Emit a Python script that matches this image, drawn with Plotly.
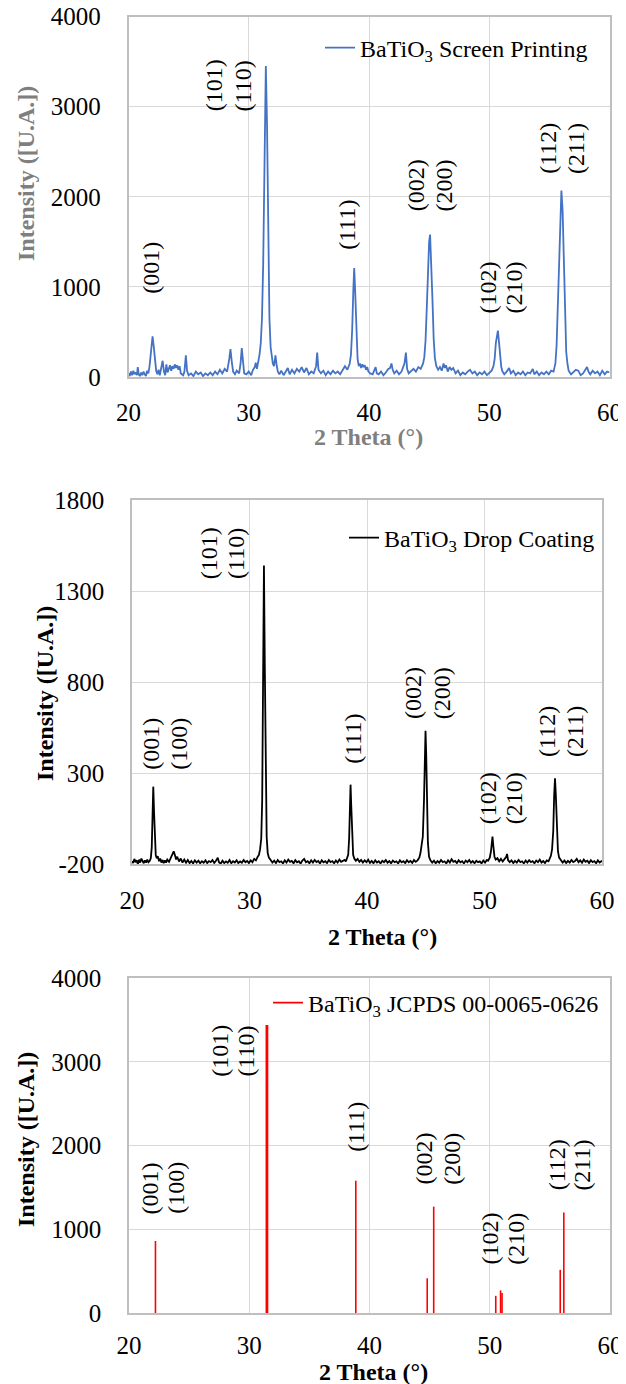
import plotly.graph_objects as go

W, H = 626, 1384
OFF = 8  # the page body adds an 8 px margin; layout is placed in page pixels minus this
FONT = "Liberation Serif, Times New Roman, serif"

# ---------------- data ----------------
# Screen printing pattern: (2theta, intensity)
sp_points = [
    (20.0, 40), (20.1, 10), (20.2, 60), (20.3, 20), (20.4, 70), (20.5, 30), (20.6, 50), (20.7, 20),
    (20.77, 110), (20.85, 30), (20.95, 10), (21.05, 50), (21.15, 20), (21.25, 60), (21.35, 30),
    (21.45, 10), (21.55, 70), (21.65, 40), (21.75, 120), (21.85, 260), (21.95, 420), (22.0, 450),
    (22.1, 340), (22.2, 170), (22.3, 70), (22.4, 30), (22.5, 80), (22.6, 20), (22.7, 90),
    (22.84, 180), (22.95, 60), (23.05, 20), (23.15, 140), (23.25, 50), (23.35, 90), (23.45, 130),
    (23.55, 70), (23.65, 120), (23.75, 90), (23.85, 140), (23.95, 100), (24.05, 130), (24.15, 80),
    (24.25, 120), (24.35, 40), (24.45, 30), (24.55, 20), (24.65, 60), (24.77, 240), (24.87, 70),
    (25.0, 20), (25.2, 40), (25.4, 10), (25.6, 60), (25.8, 30), (26.0, 50), (26.2, 10), (26.4, 40),
    (26.6, 20), (26.8, 50), (27.0, 20), (27.2, 60), (27.4, 30), (27.6, 80), (27.8, 40), (28.0, 90),
    (28.2, 60), (28.38, 200), (28.48, 310), (28.58, 180), (28.7, 60), (28.85, 30), (29.0, 70),
    (29.2, 40), (29.32, 150), (29.42, 320), (29.52, 120), (29.62, 40), (29.8, 30), (30.0, 60),
    (30.2, 20), (30.35, 80), (30.5, 110), (30.58, 160), (30.68, 90), (30.8, 180), (30.9, 250),
    (31.0, 380), (31.1, 650), (31.2, 1250), (31.3, 2500), (31.42, 3450), (31.52, 2800),
    (31.62, 1400), (31.72, 650), (31.82, 330), (31.92, 200), (32.0, 150), (32.1, 120),
    (32.22, 240), (32.32, 130), (32.42, 60), (32.55, 30), (32.7, 70), (32.9, 20), (33.1, 60),
    (33.25, 100), (33.4, 30), (33.6, 80), (33.8, 40), (34.0, 90), (34.2, 60), (34.4, 110),
    (34.6, 50), (34.8, 100), (35.0, 30), (35.2, 60), (35.4, 40), (35.6, 120), (35.69, 270),
    (35.8, 80), (36.0, 40), (36.2, 70), (36.4, 20), (36.6, 60), (36.8, 30), (37.0, 70), (37.2, 40),
    (37.4, 60), (37.6, 30), (37.8, 80), (38.0, 120), (38.2, 80), (38.4, 150), (38.5, 250),
    (38.6, 520), (38.7, 980), (38.77, 1210), (38.85, 950), (38.95, 450), (39.05, 200),
    (39.15, 120), (39.25, 150), (39.35, 100), (39.45, 140), (39.55, 110), (39.65, 130),
    (39.75, 80), (39.85, 110), (39.95, 60), (40.1, 40), (40.3, 30), (40.45, 70), (40.55, 110),
    (40.65, 40), (40.8, 30), (41.0, 60), (41.2, 20), (41.4, 50), (41.6, 90), (41.75, 100),
    (41.87, 150), (41.97, 80), (42.1, 40), (42.3, 70), (42.5, 30), (42.7, 60), (42.95, 150),
    (43.07, 270), (43.17, 90), (43.3, 40), (43.5, 60), (43.7, 90), (43.9, 60), (44.1, 110),
    (44.3, 90), (44.5, 150), (44.6, 220), (44.7, 400), (44.8, 750), (44.9, 1250), (45.0, 1500),
    (45.08, 1580), (45.18, 1300), (45.28, 850), (45.38, 420), (45.48, 210), (45.6, 120),
    (45.75, 80), (45.9, 110), (46.05, 70), (46.2, 150), (46.3, 100), (46.4, 130), (46.55, 60),
    (46.7, 110), (46.85, 80), (47.0, 100), (47.2, 40), (47.4, 70), (47.6, 20), (47.8, 50),
    (48.0, 30), (48.2, 60), (48.4, 80), (48.6, 40), (48.8, 60), (49.0, 20), (49.2, 50), (49.4, 30),
    (49.6, 60), (49.8, 20), (50.0, 40), (50.2, 70), (50.35, 120), (50.45, 200), (50.55, 380),
    (50.65, 500), (50.72, 515), (50.8, 400), (50.9, 220), (51.0, 110), (51.1, 60), (51.25, 30),
    (51.45, 60), (51.65, 100), (51.8, 40), (52.0, 70), (52.2, 20), (52.4, 50), (52.6, 30),
    (52.8, 60), (53.0, 20), (53.2, 50), (53.4, 40), (53.62, 90), (53.75, 30), (53.95, 60),
    (54.15, 20), (54.35, 50), (54.55, 30), (54.75, 60), (54.95, 30), (55.15, 70), (55.35, 60),
    (55.5, 150), (55.6, 350), (55.7, 800), (55.8, 1400), (55.9, 1900), (56.0, 2070),
    (56.1, 1850), (56.2, 1200), (56.3, 600), (56.4, 280), (56.5, 150), (56.6, 70), (56.8, 30),
    (57.0, 60), (57.2, 80), (57.4, 70), (57.6, 20), (57.8, 40), (58.0, 90), (58.13, 110),
    (58.25, 60), (58.4, 30), (58.6, 70), (58.8, 40), (59.0, 60), (59.2, 20), (59.4, 70),
    (59.6, 30), (59.8, 60), (60.0, 50),
]

# Drop coating pattern: (2theta, intensity)
dc_points = [
    (20.0, -185), (20.1, -195), (20.2, -172), (20.3, -190), (20.4, -180), (20.5, -200),
    (20.6, -176), (20.7, -192), (20.8, -170), (20.9, -188), (21.0, -196), (21.1, -180),
    (21.2, -192), (21.3, -176), (21.4, -190), (21.5, -184), (21.6, -168), (21.68, -110),
    (21.74, 60), (21.81, 225), (21.88, 80), (21.95, -90), (22.02, -150), (22.1, -168),
    (22.2, -158), (22.3, -185), (22.4, -170), (22.5, -192), (22.6, -178), (22.7, -195),
    (22.8, -180), (22.9, -192), (23.0, -176), (23.15, -188), (23.3, -168), (23.42, -150),
    (23.55, -130), (23.65, -150), (23.75, -175), (23.85, -160), (24.0, -186), (24.15, -170),
    (24.3, -192), (24.45, -176), (24.6, -193), (24.75, -178), (24.9, -195), (25.05, -183),
    (25.2, -197), (25.35, -180), (25.5, -192), (25.65, -182), (25.8, -196), (25.95, -185),
    (26.1, -193), (26.25, -180), (26.4, -195), (26.55, -184), (26.7, -190), (26.85, -178),
    (27.0, -194), (27.15, -182), (27.3, -166), (27.4, -190), (27.55, -198), (27.7, -182),
    (27.85, -195), (28.0, -186), (28.15, -193), (28.3, -178), (28.45, -196), (28.6, -185),
    (28.75, -192), (28.9, -180), (29.05, -195), (29.2, -186), (29.35, -193), (29.5, -178),
    (29.65, -190), (29.8, -183), (29.95, -195), (30.1, -180), (30.25, -190), (30.4, -172),
    (30.55, -180), (30.7, -160), (30.8, -150), (30.9, -120), (31.0, -60), (31.08, 150),
    (31.15, 700), (31.23, 1440), (31.3, 900), (31.38, 250), (31.46, -50), (31.55, -140),
    (31.65, -165), (31.8, -178), (31.95, -192), (32.1, -182), (32.25, -195), (32.4, -178),
    (32.55, -190), (32.7, -185), (32.85, -197), (33.0, -180), (33.15, -192), (33.3, -176),
    (33.45, -188), (33.6, -183), (33.75, -196), (33.9, -179), (34.05, -191), (34.2, -185),
    (34.35, -198), (34.5, -181), (34.65, -172), (34.8, -190), (34.95, -184), (35.1, -196),
    (35.25, -180), (35.4, -192), (35.55, -178), (35.7, -189), (35.85, -183), (36.0, -197),
    (36.15, -180), (36.3, -191), (36.45, -185), (36.6, -195), (36.75, -178), (36.9, -190),
    (37.05, -184), (37.2, -196), (37.35, -181), (37.5, -192), (37.65, -176), (37.8, -188),
    (37.95, -183), (38.1, -178), (38.2, -186), (38.3, -170), (38.4, -150), (38.48, -60),
    (38.55, 120), (38.6, 236), (38.66, 120), (38.74, -70), (38.82, -150), (38.92, -170),
    (39.05, -182), (39.2, -172), (39.35, -188), (39.5, -178), (39.65, -192), (39.8, -180),
    (39.95, -190), (40.1, -176), (40.25, -194), (40.4, -183), (40.55, -196), (40.7, -180),
    (40.85, -192), (41.0, -185), (41.15, -197), (41.3, -182), (41.45, -190), (41.6, -178),
    (41.75, -193), (41.9, -184), (42.05, -196), (42.2, -181), (42.35, -190), (42.5, -185),
    (42.65, -197), (42.8, -180), (42.95, -191), (43.1, -184), (43.25, -195), (43.4, -179),
    (43.55, -190), (43.7, -183), (43.85, -194), (44.0, -178), (44.15, -188), (44.3, -180),
    (44.45, -165), (44.55, -140), (44.65, -100), (44.75, -50), (44.85, 150), (44.92, 380),
    (44.98, 532), (45.04, 400), (45.1, 120), (45.18, -80), (45.28, -160), (45.4, -180),
    (45.55, -192), (45.7, -182), (45.85, -196), (46.0, -184), (46.15, -193), (46.3, -178),
    (46.45, -190), (46.6, -185), (46.75, -197), (46.9, -180), (47.05, -192), (47.2, -174),
    (47.35, -188), (47.5, -183), (47.65, -195), (47.8, -180), (47.95, -191), (48.1, -185),
    (48.25, -197), (48.4, -181), (48.55, -190), (48.7, -178), (48.85, -193), (49.0, -184),
    (49.15, -196), (49.3, -182), (49.45, -190), (49.6, -186), (49.75, -197), (49.9, -181),
    (50.05, -192), (50.2, -178), (50.3, -182), (50.45, -165), (50.55, -130), (50.62, -80),
    (50.68, -50), (50.75, -100), (50.85, -160), (50.95, -176), (51.1, -168), (51.25, -185),
    (51.4, -172), (51.55, -186), (51.7, -175), (51.85, -160), (51.92, -145), (52.0, -178),
    (52.15, -190), (52.3, -180), (52.45, -195), (52.6, -183), (52.75, -192), (52.9, -178),
    (53.05, -190), (53.2, -185), (53.35, -197), (53.5, -181), (53.65, -192), (53.8, -179),
    (53.95, -190), (54.1, -184), (54.25, -196), (54.4, -181), (54.55, -190), (54.7, -176),
    (54.85, -192), (55.0, -184), (55.15, -195), (55.3, -180), (55.45, -185), (55.55, -172),
    (55.65, -155), (55.75, -120), (55.85, -20), (55.93, 180), (56.0, 271), (56.07, 180),
    (56.15, -20), (56.25, -130), (56.35, -165), (56.5, -178), (56.65, -192), (56.8, -181),
    (56.95, -195), (57.1, -183), (57.25, -192), (57.4, -178), (57.55, -190), (57.7, -184),
    (57.85, -172), (58.0, -190), (58.15, -180), (58.3, -193), (58.45, -176), (58.6, -188),
    (58.75, -182), (58.9, -195), (59.05, -179), (59.2, -190), (59.35, -184), (59.5, -196),
    (59.65, -180), (59.8, -192), (59.95, -185), (60.0, -188),
]

tt_sp = [p[0] for p in sp_points]
int_sp = [p[1] for p in sp_points]
tt_dc = [p[0] for p in dc_points]
int_dc = [p[1] for p in dc_points]

# JCPDS 00-0065-0626 reference lines
tt_ref = [22.2, 31.42, 31.52, 38.86, 44.8, 45.34, 50.5, 50.9, 51.02, 55.86, 56.16]
int_ref = [860, 3440, 3440, 1580, 415, 1270, 205, 270, 240, 515, 1200]

x_ticks = [20, 30, 40, 50, 60]
y_ticks_sp = [0, 1000, 2000, 3000, 4000]
y_ticks_dc = [-200, 300, 800, 1300, 1800]
y_ticks_ref = [0, 1000, 2000, 3000, 4000]

# ---------------- label placement (layout) ----------------
lab_sp = [("(001)", 21.87, 1213), ("(101)", 27.18, 3235), ("(110)", 29.52, 3235),
          ("(111)", 38.2, 1693), ("(002)", 43.87, 2122), ("(200)", 46.21, 2122),
          ("(102)", 49.88, 991), ("(210)", 52.05, 991), ("(112)", 54.89, 2532),
          ("(211)", 57.23, 2532)]
lab_dc = [("(001)", 21.6, 459), ("(100)", 23.97, 459), ("(101)", 26.54, 1507),
          ("(110)", 28.9, 1507), ("(111)", 38.84, 490), ("(002)", 43.97, 738),
          ("(200)", 46.37, 738), ("(102)", 50.3, 161), ("(210)", 52.5, 161),
          ("(112)", 55.25, 527), ("(211)", 57.64, 527)]
lab_ref = [("(001)", 21.77, 1490), ("(100)", 23.95, 1490), ("(101)", 27.56, 3129),
           ("(110)", 29.7, 3129), ("(111)", 38.93, 2218), ("(002)", 44.52, 1842),
           ("(200)", 46.86, 1842), ("(102)", 50.03, 891), ("(210)", 52.21, 891),
           ("(112)", 55.55, 1770), ("(211)", 57.66, 1770)]

# panel pixel boxes (page pixels): left, right, top, bottom
P1 = (128.5, 609.5, 16.5, 377)
P2 = (132, 602, 500, 864)
P3 = (129, 610, 978, 1313)


def fx(px):
    return (px - OFF) / W


def fy(py):
    return 1 - (py - OFF) / H


fig = go.Figure()
fig.add_trace(go.Scatter(x=tt_sp, y=int_sp, mode="lines",
                         line=dict(color="#4472C4", width=1.8),
                         name="BaTiO<sub>3</sub> Screen Printing",
                         xaxis="x", yaxis="y", legend="legend"))
fig.add_trace(go.Scatter(x=tt_dc, y=int_dc, mode="lines",
                         line=dict(color="#000000", width=1.8),
                         name="BaTiO<sub>3</sub> Drop Coating",
                         xaxis="x2", yaxis="y2", legend="legend2"))
xs, ys = [], []
for p, h in zip(tt_ref, int_ref):
    xs += [p, p, None]
    ys += [0, h, None]
fig.add_trace(go.Scatter(x=xs, y=ys, mode="lines",
                         line=dict(color="#FF0000", width=1.6),
                         name="BaTiO<sub>3</sub> JCPDS 00-0065-0626",
                         xaxis="x3", yaxis="y3", legend="legend3"))

TICKFONT = dict(family=FONT, size=25, color="black")


def xax(P, anchor, standoff):
    l, r, t, b = P
    return dict(domain=[fx(l), fx(r)], range=[20, 60], anchor=anchor, automargin=False,
                tickvals=x_ticks, ticktext=[str(v) for v in x_ticks],
                showgrid=True, gridcolor="#D9D9D9", gridwidth=1.3,
                showline=True, mirror=True, linecolor="#BFBFBF", linewidth=1.5,
                zeroline=False, ticks="", ticklabelstandoff=standoff,
                ticklabeloverflow="allow", tickfont=TICKFONT)


def yax(P, anchor, rng, vals, standoff):
    l, r, t, b = P
    return dict(domain=[fy(b), fy(t)], range=rng, anchor=anchor, automargin=False,
                tickvals=vals, ticktext=[str(v) for v in vals],
                showgrid=True, gridcolor="#D9D9D9", gridwidth=1.3,
                showline=True, mirror=True, linecolor="#BFBFBF", linewidth=1.5,
                zeroline=False, ticks="", ticklabelstandoff=standoff,
                ticklabeloverflow="allow", tickfont=TICKFONT)


ann = []
for axn, labs in (("", lab_sp), ("2", lab_dc), ("3", lab_ref)):
    for txt, x, y in labs:
        ann.append(dict(text=txt, x=x, y=y, xref="x" + axn, yref="y" + axn,
                        showarrow=False, textangle=-90, xanchor="center", yanchor="middle",
                        font=dict(family=FONT, size=24, color="black")))

titles = [
    ("<b>Intensity ([U.A.])</b>", 26, 174, -90, "#7F7F7F"),
    ("<b>2 Theta (°)</b>", 368, 437, 0, "#7F7F7F"),
    ("<b>Intensity ([U.A.])</b>", 45, 694, -90, "#000000"),
    ("<b>2 Theta (°)</b>", 382, 937, 0, "#000000"),
    ("<b>Intensity ([U.A.])</b>", 26, 1140, -90, "#000000"),
    ("<b>2 Theta (°)</b>", 373, 1372, 0, "#000000"),
]
for txt, px, py, ang, col in titles:
    ann.append(dict(text=txt, x=fx(px), y=fy(py), xref="paper", yref="paper",
                    showarrow=False, textangle=ang, xanchor="center", yanchor="middle",
                    font=dict(family=FONT, size=24, color=col)))


def leg(right_px, y_px):
    return dict(x=fx(right_px), y=fy(y_px), xanchor="right", yanchor="middle",
                bgcolor="rgba(0,0,0,0)", borderwidth=0,
                font=dict(family=FONT, size=24, color="black"))


fig.update_layout(
    width=W, height=H, margin=dict(l=0, r=0, t=0, b=0, autoexpand=False),
    paper_bgcolor="white", plot_bgcolor="white",
    showlegend=True,
    xaxis=xax(P1, "y", 12), yaxis=yax(P1, "x", [0, 4000], y_ticks_sp, 21),
    xaxis2=xax(P2, "y2", 13), yaxis2=yax(P2, "x2", [-200, 1800], y_ticks_dc, 21),
    xaxis3=xax(P3, "y3", 9), yaxis3=yax(P3, "x3", [0, 4000], y_ticks_ref, 21),
    legend=leg(593, 48), legend2=leg(600, 538), legend3=leg(604, 1003),
    annotations=ann,
)

fig.write_html("out.html")
